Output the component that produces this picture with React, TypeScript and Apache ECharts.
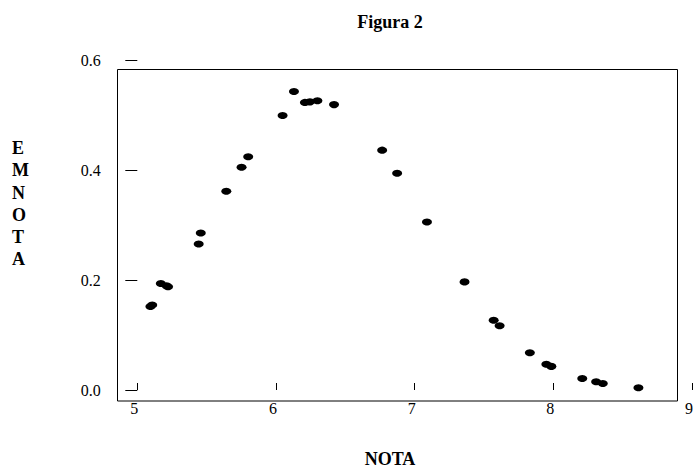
import React, { useEffect, useRef } from "react";
import * as echarts from "echarts";

// NOTA (x) and EMNOTA (y) values
const notaValues: number[] = [
  5.095, 5.108, 5.17, 5.211, 5.222, 5.443, 5.458, 5.642, 5.752, 5.8,
  6.048, 6.13, 6.209, 6.245, 6.299, 6.419, 6.766, 6.874, 7.089, 7.36,
  7.57, 7.613, 7.831, 7.95, 7.986, 8.209, 8.309, 8.357, 8.614,
];
const emnotaValues: number[] = [
  0.152, 0.155, 0.194, 0.19, 0.188, 0.266, 0.286, 0.362, 0.406, 0.425,
  0.5, 0.544, 0.524, 0.525, 0.527, 0.52, 0.437, 0.395, 0.306, 0.197,
  0.127, 0.117, 0.068, 0.047, 0.043, 0.021, 0.015, 0.012, 0.004,
];
const xTicks: number[] = [5, 6, 7, 8, 9];
const yTicks: number[] = [0, 0.2, 0.4, 0.6];

const titleText = "Figura 2";
const xTitle = "NOTA";
const yTitleLetters: string[] = ["E", "M", "N", "O", "T", "A"];

const FONT = "'Liberation Serif', 'Times New Roman', serif";

export default function App() {
  const ref = useRef<HTMLDivElement>(null);

  useEffect(() => {
    document.body.style.margin = "0";
    if (!ref.current) return;
    const chart = echarts.init(ref.current, undefined, { renderer: "svg" });
    const data = notaValues.map((x, i) => [x, emnotaValues[i]]);
    chart.setOption({
      animation: false,
      backgroundColor: "#ffffff",
      textStyle: { fontFamily: FONT, color: "#000" },
      title: {
        text: titleText,
        left: 385,
        top: 8,
        textAlign: "center",
        textStyle: { fontFamily: FONT, fontWeight: "bold", fontSize: 18, color: "#000" },
      },
      grid: { left: 137.3, top: 60.7, width: 557.2, height: 329.3, show: false },
      xAxis: {
        type: "value",
        min: xTicks[0],
        max: xTicks[xTicks.length - 1],
        interval: 1,
        offset: 7,
        axisLine: { show: false },
        axisTick: { show: true, inside: true, length: 7, lineStyle: { color: "#000", width: 1 } },
        splitLine: { show: false },
        axisLabel: {
          show: true,
          margin: 3,
          fontFamily: FONT,
          fontSize: 16,
          color: "#000",
          padding: [0, 6, 0, 0],
          formatter: (v: number) => String(v),
        },
      },
      yAxis: {
        type: "value",
        min: yTicks[0],
        max: yTicks[yTicks.length - 1],
        interval: 0.2,
        offset: 12,
        axisLine: { show: false },
        axisTick: { show: true, inside: true, length: 12, lineStyle: { color: "#000", width: 1 } },
        splitLine: { show: false },
        axisLabel: {
          show: true,
          margin: 24.5,
          fontFamily: FONT,
          fontSize: 16,
          color: "#000",
          padding: [0, 0, 5, 0],
          formatter: (v: number) => v.toFixed(1),
        },
      },
      graphic: [
        {
          type: "rect",
          shape: { x: 117.5, y: 69.5, width: 560, height: 331.5 },
          style: { fill: "none", stroke: "#000", lineWidth: 1 },
          silent: true,
          z: 0,
        },
        {
          type: "text",
          x: 12,
          y: 137,
          style: {
            text: yTitleLetters.join("\n"),
            font: `bold 18px ${FONT}`,
            lineHeight: 22.2,
            fill: "#000",
            align: "left",
            verticalAlign: "top",
          },
        },
        {
          type: "text",
          x: 390,
          y: 459,
          style: {
            text: xTitle,
            font: `bold 18px ${FONT}`,
            fill: "#000",
            align: "center",
            verticalAlign: "middle",
          },
        },
      ],
      series: [
        {
          type: "scatter",
          data,
          symbol: "circle",
          symbolSize: [10, 7],
          itemStyle: { color: "#000", opacity: 1 },
          clip: false,
          z: 5,
        },
      ],
    });
    return () => chart.dispose();
  }, []);

  return <div ref={ref} style={{ width: 696, height: 468 }} />;
}
